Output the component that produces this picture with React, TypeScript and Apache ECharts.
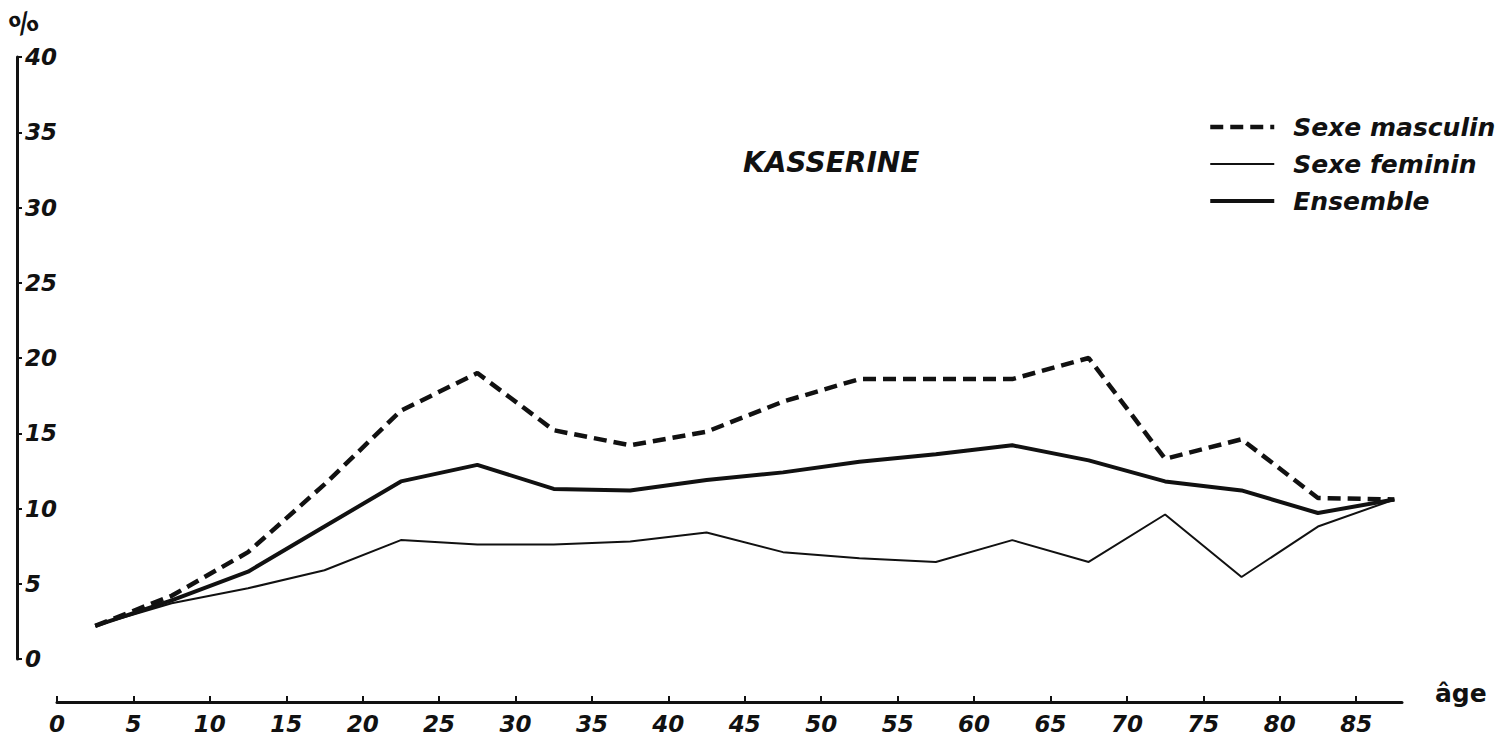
import React, { useEffect, useRef } from "react";
import * as echarts from "echarts";

const ages = [2.5, 7.5, 12.5, 17.5, 22.5, 27.5, 32.5, 37.5, 42.5, 47.5, 52.5, 57.5, 62.5, 67.5, 72.5, 77.5, 82.5, 87.5];
const masculin = [2.2, 4.2, 7.1, 11.6, 16.5, 19.0, 15.2, 14.2, 15.1, 17.1, 18.6, 18.6, 18.6, 20.0, 13.3, 14.6, 10.7, 10.6];
const feminin = [2.2, 3.7, 4.7, 5.9, 7.9, 7.6, 7.6, 7.8, 8.4, 7.1, 6.7, 6.45, 7.9, 6.45, 9.6, 5.45, 8.8, 10.6];
const ensemble = [2.2, 3.9, 5.8, 8.8, 11.8, 12.9, 11.3, 11.2, 11.9, 12.4, 13.1, 13.6, 14.2, 13.2, 11.8, 11.2, 9.7, 10.6];
const xTicks = [0, 5, 10, 15, 20, 25, 30, 35, 40, 45, 50, 55, 60, 65, 70, 75, 80, 85];
const seriesNames = ["Sexe masculin", "Sexe feminin", "Ensemble"];
const title = "KASSERINE";

const INK = "#111111";
const FONT = "DejaVu Sans";

export default function App() {
  const ref = useRef<HTMLDivElement>(null);
  useEffect(() => {
    if (!ref.current) return;
    const chart = echarts.init(ref.current, undefined, { renderer: "svg" });
    const pair = (vals: number[]) => ages.map((a, i) => [a, vals[i]]);
    const txt = { fontFamily: FONT, fontStyle: "italic" as const, fontWeight: "bold" as const, color: INK };
    const styles = [
      { color: INK, width: 4.5, type: [13, 7] as number[] | "solid" },
      { color: INK, width: 2, type: "solid" as number[] | "solid" },
      { color: INK, width: 4, type: "solid" as number[] | "solid" },
    ];
    chart.setOption({
      animation: false,
      backgroundColor: "#ffffff",
      title: {
        text: title,
        left: 743,
        top: 148,
        padding: 0,
        textStyle: { ...txt, fontSize: 28 },
      },
      legend: {
        orient: "vertical",
        left: 1208,
        top: 114,
        itemWidth: 64,
        itemHeight: 14,
        itemGap: 11,
        padding: 0,
        itemStyle: { opacity: 0 },
        data: seriesNames.map((n, i) => ({ name: n, lineStyle: { width: styles[i].width, type: styles[i].type, color: INK } })),
        textStyle: { ...txt, fontSize: 25, lineHeight: 26, padding: [0, 0, 0, 14] },
      },
      graphic: [
        {
          type: "text",
          left: 6,
          top: 6,
          rotation: 0.35,
          style: { text: "%", fontFamily: FONT, fontWeight: "bold", fontSize: 28, fill: INK },
        },
      ],
      grid: { left: 57, top: 57, width: 1345, height: 602 },
      xAxis: {
        type: "value",
        min: 0,
        max: 88,
        interval: 5,
        offset: 43,
        name: "âge",
        nameLocation: "end",
        nameGap: 33,
        nameTextStyle: { fontFamily: FONT, fontWeight: "bold", fontSize: 25, color: INK, verticalAlign: "bottom", padding: [0, 0, -4, 0] },
        axisLine: { show: true, onZero: false, lineStyle: { color: INK, width: 3 } },
        axisTick: { show: true, inside: true, length: 6, lineStyle: { color: INK, width: 2 }, customValues: xTicks },
        axisLabel: { ...txt, fontSize: 23, margin: 10, customValues: xTicks },
        splitLine: { show: false },
      },
      yAxis: {
        type: "value",
        min: 0,
        max: 40,
        interval: 5,
        offset: 40,
        axisLine: { show: true, onZero: false, lineStyle: { color: INK, width: 3 } },
        axisTick: { show: true, inside: true, length: 5, lineStyle: { color: INK, width: 2 } },
        axisLabel: { ...txt, fontSize: 23, inside: true, margin: 8 },
        splitLine: { show: false },
      },
      series: [
        {
          name: seriesNames[0],
          type: "line",
          symbol: "none",
          data: pair(masculin),
          lineStyle: styles[0],
          itemStyle: { color: INK },
        },
        {
          name: seriesNames[1],
          type: "line",
          symbol: "none",
          data: pair(feminin),
          lineStyle: styles[1],
          itemStyle: { color: INK },
        },
        {
          name: seriesNames[2],
          type: "line",
          symbol: "none",
          data: pair(ensemble),
          lineStyle: styles[2],
          itemStyle: { color: INK },
        },
      ],
    });
    return () => chart.dispose();
  }, []);
  return (
    <div
      ref={ref}
      style={{ position: "fixed", left: 0, top: 0, width: 1502, height: 750, background: "#fff" }}
    />
  );
}
